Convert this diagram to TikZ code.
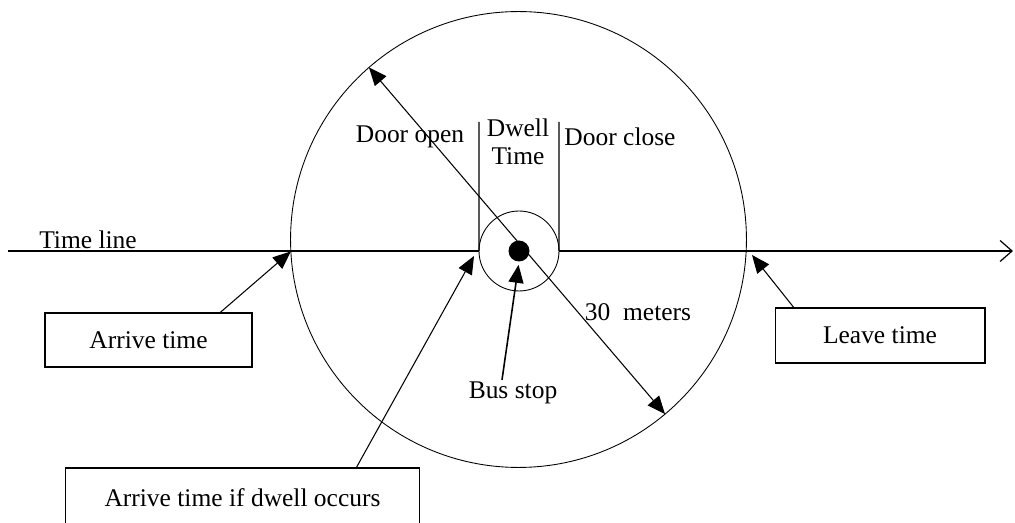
\documentclass[tikz,border=0pt]{standalone}
\usepackage{fontspec}
\setmainfont{Liberation Serif}
\usetikzlibrary{arrows.meta}

\begin{document}
\begin{tikzpicture}[x=0.02cm, y=-0.02cm,
    lbl/.style={font=\fontsize{14.5}{16}\selectfont, inner sep=1pt},
    timebox/.style={rectangle, draw, line width=0.6pt, lbl, minimum width=4.14cm, minimum height=1.08cm},
    ring/.style={circle, draw, line width=0.5pt, inner sep=0pt, outer sep=0pt},
    pointer/.style={-{Triangle[length=0.36cm, width=0.3cm]}, line width=0.6pt},
    span/.style={{Triangle[length=0.36cm, width=0.3cm]}-{Triangle[length=0.36cm, width=0.3cm]}, line width=0.6pt}
]
\clip (0,0) rectangle (1015,523);

% Stop zone and bus stop
\node[ring, minimum size=9.12cm] (zone) at (518.5,239.5) {};
\node[ring, minimum size=1.6cm] (stopring) at (519,251) {};
\node[circle, fill, inner sep=0pt, minimum size=0.42cm] (stop) at (519,251) {};

% Time line
\coordinate (tlstart) at (8,251);
\coordinate (tlend) at (1013,251);
\draw[line width=0.7pt] (tlstart) -- (stopring.west);
\draw[line width=0.7pt, -{Straight Barb[length=0.24cm, width=0.42cm]}] (stopring.east) -- (tlend);

% Door marks
\coordinate (opentop) at (479,122);
\coordinate (closetop) at (559,122);
\draw[line width=0.7pt] (opentop) -- (stopring.west);
\draw[line width=0.7pt] (closetop) -- (stopring.east);

% Labels
\node[lbl] (timeline) at (88,240) {Time line};
\node[lbl] (dooropen) at (410,137) {Door open};
\node[lbl, align=center] (dwell) at (518,142) {Dwell\\Time};
\node[lbl] (doorclose) at (620,137) {Door close};
\node[lbl] (radius) at (638,312) {30\enspace meters};
\node[lbl] (busstop) at (513,393) {Bus stop};

% Boxes
\node[timebox] (arrive) at (148.5,340) {Arrive time};
\node[timebox, minimum width=4.2cm, minimum height=1.1cm] (leave) at (880,335.5) {Leave time};
\node[timebox, minimum width=7.1cm, minimum height=1.2cm] (dwellarrive) at (242.5,498) {Arrive time if dwell occurs};

% Pointers
\coordinate (leavetip) at (752,255);
\coordinate (dwelltip) at (474,256);
\draw[span] (zone.131) -- (zone.-50.5);
\draw[pointer] (arrive.21.5) -- (zone.183.6);
\draw[pointer] (leave.162.6) -- (leavetip);
\draw[pointer] (dwellarrive.15.2) -- (dwelltip);
\draw[pointer, line width=0.9pt, shorten >=0.06cm] ([xshift=-0.22cm]busstop.north) -- (stop.south);

\end{tikzpicture}
\end{document}
